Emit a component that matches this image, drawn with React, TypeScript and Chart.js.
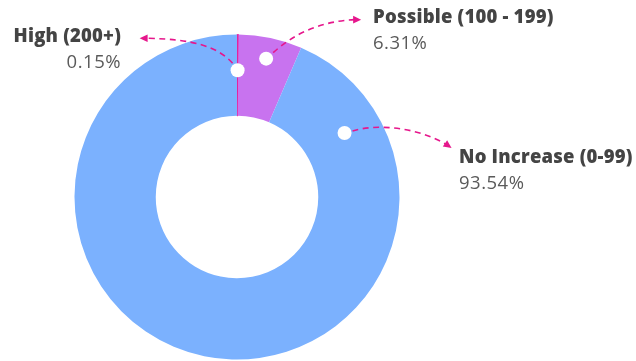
import React, { useEffect, useRef } from "react";
import { Chart, registerables } from "chart.js";

Chart.register(...registerables);

const categories = ["High (200+)", "Possible (100 - 199)", "No Increase (0-99)"];
const percentValues = [0.15, 6.31, 93.54];
const percentLabels = ["0.15%", "6.31%", "93.54%"];
const sliceColors = ["#E3249E", "#C873EF", "#7BB1FE"];
const sliceBorders = [1, 0, 0];

const ARROW = "#E6178C";

function arrowHead(ctx: CanvasRenderingContext2D, x: number, y: number, ang: number) {
  const len = 8;
  const w = 3.8;
  ctx.save();
  ctx.translate(x, y);
  ctx.rotate(ang);
  ctx.beginPath();
  ctx.moveTo(0, 0);
  ctx.lineTo(-len, -w);
  ctx.lineTo(-len, w);
  ctx.closePath();
  ctx.fillStyle = ARROW;
  ctx.fill();
  ctx.restore();
}

const calloutPlugin = {
  id: "callouts",
  afterDraw(chart: any) {
    const ctx: CanvasRenderingContext2D = chart.ctx;
    const arcs = chart.getDatasetMeta(0).data as any[];
    if (!arcs.length) return;
    const a0 = arcs[0];
    const cx = a0.x;
    const cy = a0.y;
    const inner = a0.innerRadius;
    const outer = a0.outerRadius;
    const ring = outer - inner;
    const pt = (ang: number, frac: number) => {
      const r = inner + ring * frac;
      return [cx + Math.cos(ang) * r, cy + Math.sin(ang) * r];
    };
    const mid = (a: any) => (a.startAngle + a.endAngle) / 2;
    const dots = [
      pt(mid(arcs[0]), 0.56),
      pt(mid(arcs[1]), 0.74),
      pt(arcs[2].startAngle + (36 * Math.PI) / 180, 0.54),
    ];

    // dashed connectors
    ctx.save();
    ctx.strokeStyle = ARROW;
    ctx.lineWidth = 1.6;
    ctx.setLineDash([6, 4.5]);
    // High
    let [dx, dy] = dots[0];
    ctx.beginPath();
    ctx.moveTo(dx - 5, dy - 7);
    ctx.bezierCurveTo(dx - 20, dy - 24, dx - 45, dy - 31, dx - 90, dy - 32);
    ctx.stroke();
    // Possible
    [dx, dy] = dots[1];
    ctx.beginPath();
    ctx.moveTo(dx + 7, dy - 6);
    ctx.bezierCurveTo(dx + 27, dy - 24, dx + 52, dy - 37, dx + 88, dy - 39);
    ctx.stroke();
    // No increase
    [dx, dy] = dots[2];
    ctx.beginPath();
    ctx.moveTo(dx + 8, dy - 2);
    ctx.bezierCurveTo(dx + 30, dy - 9, dx + 70, dy - 7, dx + 101, dy + 11);
    ctx.stroke();
    ctx.restore();

    [dx, dy] = dots[0];
    arrowHead(ctx, dx - 98, dy - 32, Math.PI);
    [dx, dy] = dots[1];
    arrowHead(ctx, dx + 95, dy - 39, 0);
    [dx, dy] = dots[2];
    arrowHead(ctx, dx + 107, dy + 15, (35 * Math.PI) / 180);

    // white dots
    ctx.save();
    ctx.fillStyle = "#FFFFFF";
    for (const [x, y] of dots) {
      ctx.beginPath();
      ctx.arc(x, y, 7, 0, Math.PI * 2);
      ctx.fill();
    }
    ctx.restore();

    // labels
    const labelPos: [number, number, CanvasTextAlign][] = [
      [cx - 116, cy - 155, "right"],
      [cx + 136, cy - 174, "left"],
      [cx + 222, cy - 34, "left"],
    ];
    ctx.save();
    ctx.textBaseline = "alphabetic";
    categories.forEach((name, i) => {
      const [x, y, align] = labelPos[i];
      ctx.textAlign = align;
      ctx.fillStyle = "#444444";
      ctx.font = "800 18.5px 'Open Sans'";
      (ctx as any).letterSpacing = "0.2px";
      ctx.fillText(name, x, y);
      ctx.fillStyle = "#5a5a5a";
      ctx.font = "400 18.5px 'Open Sans'";
      (ctx as any).letterSpacing = "0.5px";
      ctx.fillText(percentLabels[i], x, y + 25.5);
    });
    ctx.restore();
  },
};

export default function App() {
  const ref = useRef<HTMLCanvasElement | null>(null);
  useEffect(() => {
    document.body.style.margin = "0";
    const chart = new Chart(ref.current as HTMLCanvasElement, {
      type: "doughnut",
      data: {
        labels: categories,
        datasets: [
          {
            data: percentValues,
            backgroundColor: sliceColors,
            borderColor: sliceColors,
            borderWidth: sliceBorders,
          },
        ],
      },
      options: {
        animation: false,
        responsive: false,
        cutout: "50%",
        layout: { padding: { left: 74, right: 236, top: 34, bottom: 1 } },
        plugins: {
          legend: { display: false },
          tooltip: { enabled: false },
        },
      },
      plugins: [calloutPlugin],
    });
    return () => chart.destroy();
  }, []);
  return (
    <div style={{ width: 636, height: 361, background: "#fff" }}>
      <canvas ref={ref} width={636} height={361} />
    </div>
  );
}
